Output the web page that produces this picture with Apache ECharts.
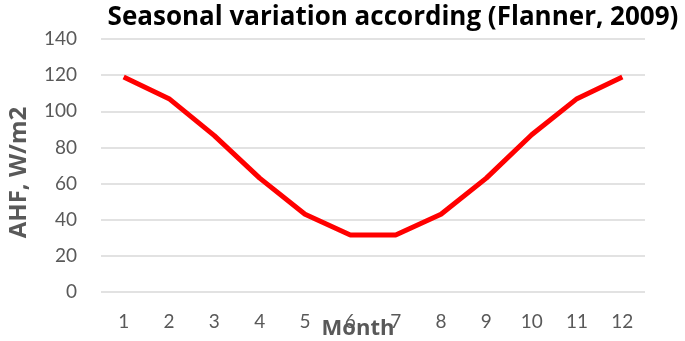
<!DOCTYPE html>
<html><head><meta charset="utf-8">
<script src="https://cdn.jsdelivr.net/npm/echarts@6/dist/echarts.min.js"></script>
<style>html,body{margin:0;padding:0;background:#fff}#c{width:685px;height:341px}</style>
</head><body><div id="c"></div>
<script>
const months = ['1','2','3','4','5','6','7','8','9','10','11','12'];
const ahf = [119, 107, 86.5, 63, 43, 31.5, 31.5, 43, 63, 87, 107, 119];
const yTicks = {min: 0, max: 140, interval: 20};
const FONT = 'Lato';
const BOLD = 'Open Sans';
const chart = echarts.init(document.getElementById('c'));
chart.setOption({
  animation: false,
  title: {
    text: 'Seasonal variation according (Flanner, 2009)',
    left: 388, top: 0, textAlign: 'center',
    textStyle: {fontFamily: BOLD, fontWeight: 'bold', fontSize: 26, color: '#000'}
  },
  grid: {left: 101, right: 40, top: 39, bottom: 49, containLabel: false, outerBoundsMode: 'none'},
  xAxis: {
    type: 'category', data: months, boundaryGap: true,
    name: 'Month', nameLocation: 'middle', nameGap: 26, nameMoveOverlap: false,
    nameTextStyle: {fontFamily: BOLD, fontWeight: 'bold', fontSize: 22, color: '#595959', padding: [0, 30, 0, 0]},
    axisLine: {show: false}, axisTick: {show: false},
    axisLabel: {fontFamily: FONT, fontSize: 19, color: '#595959', margin: 20}
  },
  yAxis: {
    type: 'value', min: yTicks.min, max: yTicks.max, interval: yTicks.interval,
    name: 'AHF, W/m2', nameLocation: 'middle', nameGap: 70, nameRotate: 90, nameMoveOverlap: false,
    nameTextStyle: {fontFamily: BOLD, fontWeight: 'bold', fontSize: 24, color: '#595959', padding: [0, 14, 0, 0]},
    axisLine: {show: false}, axisTick: {show: false},
    axisLabel: {fontFamily: FONT, fontSize: 19, color: '#595959', margin: 24},
    splitLine: {lineStyle: {color: '#d9d9d9', width: 1.5}}
  },
  series: [{
    type: 'line', data: ahf, symbol: 'none',
    lineStyle: {color: '#ff0000', width: 5}
  }]
});
</script></body></html>
